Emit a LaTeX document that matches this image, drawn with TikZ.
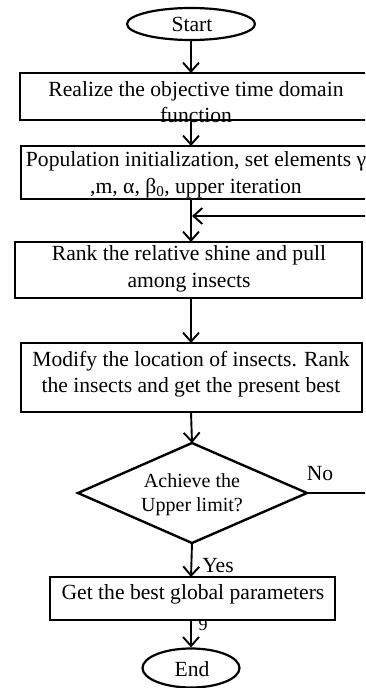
\documentclass[tikz,border=0pt]{standalone}
\usepackage{fontspec}
\setmainfont{Liberation Serif}
\usetikzlibrary{shapes.geometric,arrows.meta}
\begin{document}
\begin{tikzpicture}[x=1pt,y=-1pt,
  box/.style={draw,line width=2.7pt,fill=white},
  term/.style={draw,ellipse,line width=2.2pt,inner sep=0pt},
  arr/.style={line width=1.9pt,-{Straight Barb[length=9pt,width=16pt,line width=1.9pt]}},
  ln/.style={line width=1.9pt},
  txt/.style={font=\fontsize{21.6}{26.5}\selectfont,align=center,inner sep=0pt},
  dtxt/.style={font=\fontsize{20}{24}\selectfont,align=center,inner sep=0pt}]
\useasboundingbox (0,0) rectangle (365,688);
\clip (0,0) rectangle (365,688);
% terminals
\node[term,minimum width=128pt,minimum height=32pt] (start) at (191,24) {};
\node[txt] at (192,24) {Start};
\node[term,minimum width=97pt,minimum height=39pt] (end) at (191,668) {};
\node[txt] at (192,669) {End};
% boxes
\draw[box] (20,73) rectangle (380,120);
\coordinate (b1t) at (191,73); \coordinate (b1b) at (191,120);
\node[txt] (t1) at (196,102) {Realize the objective time domain\\function};
\draw[box] (21,146) rectangle (380,199);
\coordinate (b2t) at (191,146); \coordinate (b2b) at (191,199);
\node[txt] (t2) at (196,175) {Population initialization, set elements γ\\,m, α, β\textsubscript{0}, upper iteration};
\draw[box] (15,242) rectangle (362,298);
\coordinate (b3t) at (191,242); \coordinate (b3b) at (191,298);
\node[txt] (t3) at (189,269) {Rank the relative shine and pull\\among insects};
\draw[box] (21,343) rectangle (362,412);
\coordinate (b4t) at (191,343); \coordinate (b4b) at (191,412);
\node[txt] (t4) at (191,374) {Modify the location of insects. Rank\\the insects and get the present best};
% diamond
\coordinate (dt) at (192,443); \coordinate (db) at (192,543);
\coordinate (dl) at (78,493); \coordinate (dr) at (307,493);
\draw[line width=2.4pt,line join=miter] (dt) -- (dr) -- (db) -- (dl) -- cycle;
\node[dtxt] (t5) at (192,495) {Achieve the\\Upper limit?};
% stray glyph under last box
\node[txt,font=\fontsize{18}{20}\selectfont] (nine) at (203,625) {9};
\draw[box] (50,577) rectangle (335,620);
\coordinate (b5t) at (191,577); \coordinate (b5b) at (191,620);
\node[txt] (t6) at (193,594) {Get the best global parameters};
% connectors
\draw[arr] (start.south) -- (b1t);
\draw[arr] (b1b) -- (b2t);
\draw[arr] (b2b) -- (b3t);
\coordinate (fbR) at (375,216); \coordinate (fbL) at (192,216);
\draw[arr] (fbR) -- (fbL);
\draw[arr] (b3b) -- (b4t);
\draw[arr] (b4b) -- (dt);
\draw[arr] (db) -- (b5t);
\coordinate (noR) at (375,493);
\draw[ln] (dr) -- (noR);
\node[txt] (no) at (320,474) {No};
\node[txt] (yes) at (218,566) {Yes};
\draw[arr] (b5b) -- (end.north);
\end{tikzpicture}
\end{document}
